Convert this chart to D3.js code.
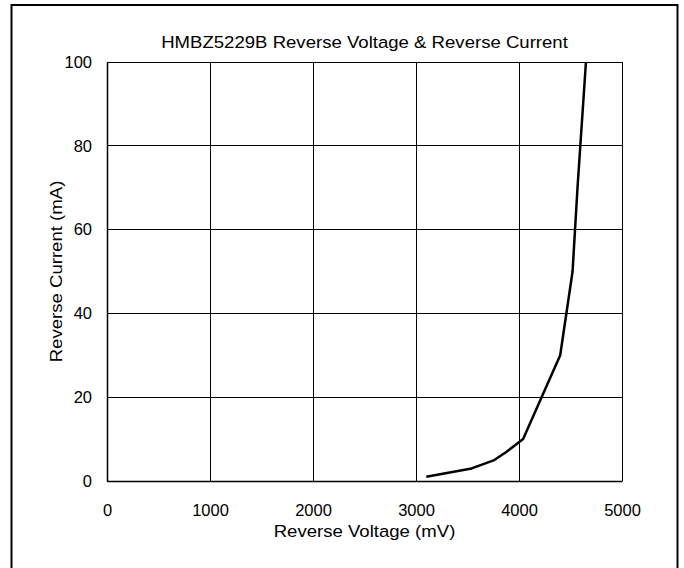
<!DOCTYPE html>
<html>
<head>
<meta charset="utf-8">
<script src="https://cdn.jsdelivr.net/npm/d3@7/dist/d3.min.js"></script>
<style>
  html, body { margin: 0; padding: 0; background: #fff; }
  svg { display: block; }
  text { font-family: "Liberation Sans", Arial, sans-serif; fill: #000; }
</style>
</head>
<body>
<svg id="chart" width="684" height="568"></svg>
<script>
const chartTitle = "HMBZ5229B Reverse Voltage & Reverse Current";
const xTitle = "Reverse Voltage (mV)";
const yTitle = "Reverse Current (mA)";
const voltage = [3100, 3540, 3760, 3880, 4040, 4400, 4520, 4568, 4650];
const current = [1, 3, 5, 7, 10, 30, 50, 70, 100];
const xTicks = [0, 1000, 2000, 3000, 4000, 5000];
const yTicks = [0, 20, 40, 60, 80, 100];

const svg = d3.select("#chart");
const margin = { left: 107, right: 62, top: 62, bottom: 87 };
const W = 684, H = 568;
const x = d3.scaleLinear().domain([0, 5000]).range([margin.left, W - margin.right]);
const y = d3.scaleLinear().domain([0, 100]).range([H - margin.bottom, margin.top]);

// outer frame
svg.append("rect").attr("x", 11.5).attr("y", 5).attr("width", 666).attr("height", 600)
  .attr("fill", "none").attr("stroke", "#000").attr("stroke-width", 2);

// grid
svg.append("g").selectAll("line").data(xTicks).join("line")
  .attr("x1", d => x(d)).attr("x2", d => x(d))
  .attr("y1", y(0)).attr("y2", y(100))
  .attr("stroke", "#000").attr("stroke-width", 1).attr("shape-rendering", "crispEdges");
svg.append("g").selectAll("line").data(yTicks).join("line")
  .attr("y1", d => y(d)).attr("y2", d => y(d))
  .attr("x1", x(0)).attr("x2", x(5000))
  .attr("stroke", "#000").attr("stroke-width", 1).attr("shape-rendering", "crispEdges");

// axes (labels only)
const xAxis = d3.axisBottom(x).tickValues(xTicks).tickSize(0).tickPadding(23).tickFormat(d3.format("d"));
const gx = svg.append("g").attr("transform", `translate(0,${y(0)})`).call(xAxis);
gx.select(".domain").attr("stroke", "#000").attr("stroke-width", 1.5);
gx.selectAll("text").attr("font-size", 16.5).attr("font-family", "Liberation Sans, Arial, sans-serif");

const yAxis = d3.axisLeft(y).tickValues(yTicks).tickSize(0).tickPadding(15).tickFormat(d3.format("d"));
const gy = svg.append("g").attr("transform", `translate(${x(0)},0)`).call(yAxis);
gy.select(".domain").attr("stroke", "#000").attr("stroke-width", 1.5);
gy.selectAll("text").attr("font-size", 16.5).attr("font-family", "Liberation Sans, Arial, sans-serif");

// curve
const pts = voltage.map((v, i) => [v, current[i]]);
svg.append("path").datum(pts)
  .attr("fill", "none").attr("stroke", "#000").attr("stroke-width", 2.5)
  .attr("stroke-linejoin", "round")
  .attr("d", d3.line().x(d => x(d[0])).y(d => y(d[1])));

// titles (slightly widened glyphs, as in the reference)
const cx = (x(0) + x(5000)) / 2, cy = (y(0) + y(100)) / 2;
svg.append("text").attr("transform", `translate(${cx},48) scale(1.14,1)`)
  .attr("text-anchor", "middle").attr("font-size", 16.3).text(chartTitle);
svg.append("text").attr("transform", `translate(${cx},537) scale(1.14,1)`)
  .attr("text-anchor", "middle").attr("font-size", 16.3).text(xTitle);
svg.append("text").attr("transform", `translate(62,${cy}) rotate(-90) scale(1.14,1)`)
  .attr("text-anchor", "middle").attr("font-size", 16.3).text(yTitle);
</script>
</body>
</html>
